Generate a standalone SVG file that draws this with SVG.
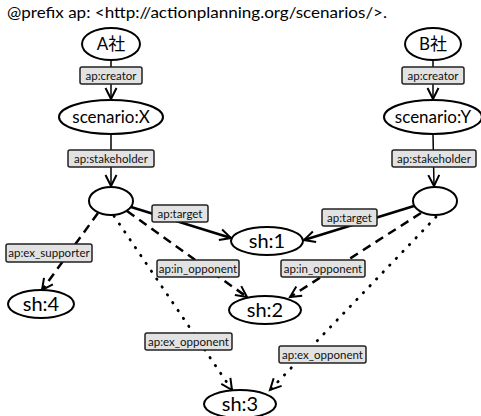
<svg xmlns="http://www.w3.org/2000/svg" width="481" height="416" viewBox="0 0 481 416">
<defs>
<marker id="ah" markerUnits="userSpaceOnUse" markerWidth="14" markerHeight="14" refX="12" refY="6.500" orient="auto" overflow="visible">
<path d="M1,1 L12,6.500 L1,12" fill="none" stroke="#000" stroke-width="2"/>
</marker>
</defs>
<style>
.node{fill:#fff;stroke:#000;stroke-width:2}
.nt{font-family:Lato,"Open Sans","Noto Sans CJK JP",sans-serif;font-size:17px;text-anchor:middle;fill:#000}
.big{font-size:20px}
.lb{fill:#e2e2e2;stroke:#222;stroke-width:1.5}
.lt{font-family:Lato,"Open Sans",sans-serif;font-size:11.500px;text-anchor:middle;fill:#111}
.e{fill:none;stroke:#000;marker-end:url(#ah)}
.v{stroke-width:1.5}
.s{stroke-width:2.5}
.d{stroke-width:2.5;stroke-dasharray:9 6}
.o{stroke-width:2.8;stroke-dasharray:0.5 9;stroke-linecap:round}
</style>
<rect width="481" height="416" fill="#fff"/>
<text x="7" y="18" font-family="Lato, 'Open Sans', sans-serif" font-size="15" textLength="380" lengthAdjust="spacingAndGlyphs" fill="#000">@prefix ap: &lt;http://actionplanning.org/scenarios/&gt;.</text>
<g id="edges">
<line class="e v" x1="111" y1="60" x2="111" y2="99"/>
<line class="e v" x1="111" y1="134" x2="111" y2="186"/>
<line class="e v" x1="433" y1="60" x2="433" y2="99"/>
<line class="e v" x1="433" y1="134" x2="434" y2="186"/>
<line class="e s" x1="131" y1="207" x2="231" y2="238"/>
<line class="e d" x1="127" y1="211" x2="247" y2="297"/>
<line class="e o" x1="114" y1="216" x2="232" y2="390"/>
<line class="e d" x1="98" y1="213" x2="42" y2="290"/>
<line class="e s" x1="414" y1="206" x2="304" y2="240"/>
<line class="e d" x1="421" y1="213" x2="290" y2="297"/>
<line class="e o" x1="436" y1="217" x2="270" y2="390"/>
</g>
<g id="lbl-creator-a"><rect class="lb" x="80" y="67" width="62" height="17" rx="2"/><text class="lt" x="111" y="79.500">ap:creator</text></g>
<g id="lbl-creator-b"><rect class="lb" x="402" y="67" width="62" height="17" rx="2"/><text class="lt" x="433" y="79.500">ap:creator</text></g>
<g id="lbl-stake-a"><rect class="lb" x="68" y="150" width="86" height="17" rx="2"/><text class="lt" x="111" y="162.500">ap:stakeholder</text></g>
<g id="lbl-stake-b"><rect class="lb" x="392" y="150" width="84" height="17" rx="2"/><text class="lt" x="434" y="162.500">ap:stakeholder</text></g>
<g id="lbl-target-a"><rect class="lb" x="152" y="205" width="56" height="17" rx="2"/><text class="lt" x="180" y="217.500">ap:target</text></g>
<g id="lbl-target-b"><rect class="lb" x="322" y="209" width="55" height="17" rx="2"/><text class="lt" x="349.500" y="221.500">ap:target</text></g>
<g id="lbl-inopp-a"><rect class="lb" x="157" y="260" width="82" height="17" rx="2"/><text class="lt" x="198" y="272.500">ap:in_opponent</text></g>
<g id="lbl-inopp-b"><rect class="lb" x="281" y="260" width="84" height="17" rx="2"/><text class="lt" x="323" y="272.500">ap:in_opponent</text></g>
<g id="lbl-exopp-a"><rect class="lb" x="145" y="333" width="87" height="17" rx="2"/><text class="lt" x="188.500" y="345.500">ap:ex_opponent</text></g>
<g id="lbl-exopp-b"><rect class="lb" x="279" y="346" width="87" height="17" rx="2"/><text class="lt" x="322.500" y="358.500">ap:ex_opponent</text></g>
<g id="lbl-exsup"><rect class="lb" x="6" y="244" width="86" height="18" rx="2"/><text class="lt" x="49" y="257">ap:ex_supporter</text></g>
<g id="n-A"><ellipse class="node" cx="111" cy="44" rx="29" ry="16"/><text class="nt" x="111" y="50">A社</text></g>
<g id="n-B"><ellipse class="node" cx="433" cy="44" rx="28" ry="16"/><text class="nt" x="433" y="50">B社</text></g>
<g id="n-scX"><ellipse class="node" cx="111" cy="117" rx="52" ry="17"/><text class="nt" x="111" y="123">scenario:X</text></g>
<g id="n-scY"><ellipse class="node" cx="433" cy="117" rx="49" ry="17"/><text class="nt" x="433" y="123">scenario:Y</text></g>
<g id="n-bA"><ellipse class="node" cx="111" cy="201" rx="22" ry="14"/></g>
<g id="n-bB"><ellipse class="node" cx="435" cy="201" rx="22" ry="14"/></g>
<g id="n-sh1"><ellipse class="node" cx="267" cy="241" rx="36" ry="14"/><text class="nt big" x="267" y="248">sh:1</text></g>
<g id="n-sh2"><ellipse class="node" cx="265" cy="310" rx="36" ry="14"/><text class="nt big" x="265" y="317">sh:2</text></g>
<g id="n-sh3"><ellipse class="node" cx="240" cy="404" rx="36" ry="14"/><text class="nt big" x="240" y="411">sh:3</text></g>
<g id="n-sh4"><ellipse class="node" cx="41" cy="304" rx="33" ry="14"/><text class="nt big" x="41" y="311">sh:4</text></g>
</svg>
